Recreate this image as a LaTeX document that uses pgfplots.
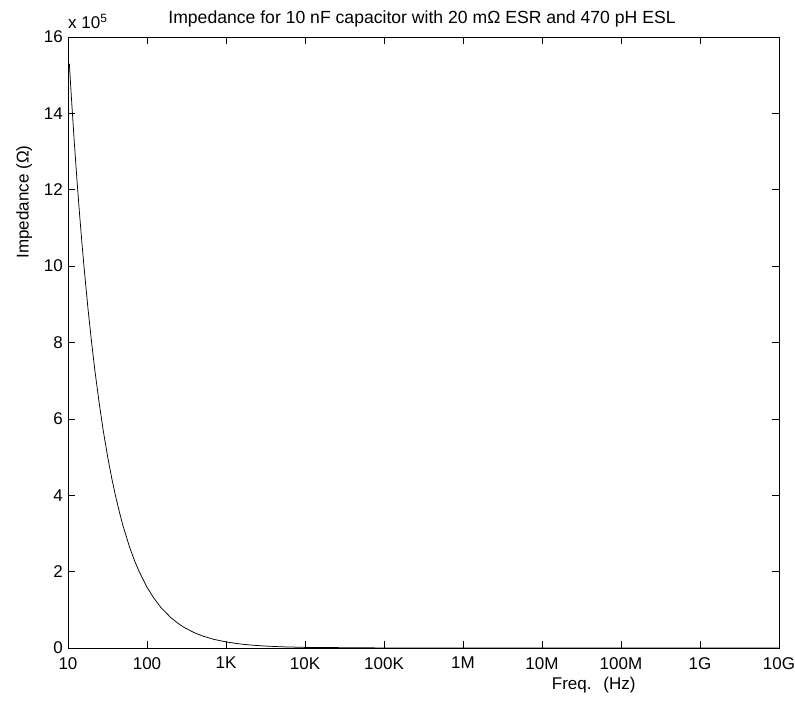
\documentclass[border=0pt]{standalone}
\usepackage{fontspec}
\setmainfont{Liberation Sans}
\usepackage{pgfplots}
\pgfplotsset{compat=1.18}

\newcommand\lblfont{\fontsize{17bp}{20bp}\selectfont}
\newcommand\ttlfont{\fontsize{17.6bp}{21bp}\selectfont}

\begin{document}
\begin{tikzpicture}
\useasboundingbox (0,0) rectangle (795bp,706bp);
\begin{axis}[
  scale only axis,
  width=711bp, height=611bp,
  at={(68bp,58bp)}, anchor=south west,
  xmode=log,
  xmin=10, xmax=1e10,
  ymin=0, ymax=16e5,
  xtick={1e1,1e2,1e3,1e4,1e5,1e6,1e7,1e8,1e9,1e10},
  xticklabels={10,100,1K,10K,100K,1M,10M,100M,1G,10G},
  xminorticks=false,
  ytick={0,2e5,4e5,6e5,8e5,10e5,12e5,14e5,16e5},
  yticklabels={0,2,4,6,8,10,12,14,16},
  scaled y ticks=false,
  tick align=inside,
  tick pos=both,
  major tick length=7bp,
  tick style={black, line width=0.6bp},
  axis line style={black, line width=0.8bp},
  /pgf/number format/assume math mode=true,
  ticklabel style={font=\lblfont},
  xticklabel style={inner sep=0pt, anchor=north, yshift=-9bp},
  yticklabel style={inner sep=0pt, anchor=east, xshift=-5bp},
  clip=false,
]
% |Z| of the 10 nF part versus frequency (Hz, ohm)
\addplot[black, line width=0.75bp] coordinates {
  (10.4,1.53e6) (11,1.447e6) (12,1.326e6) (13,1.224e6) (14,1.137e6)
  (15,1.061e6) (16,9.95e5) (18,8.84e5) (20,7.96e5) (22,7.23e5)
  (25,6.37e5) (28,5.68e5) (32,4.97e5) (36,4.42e5) (40,3.98e5)
  (45,3.54e5) (50,3.18e5) (60,2.65e5) (70,2.27e5) (80,1.99e5)
  (100,1.59e5) (120,1.33e5) (150,1.06e5) (200,7.96e4) (250,6.37e4)
  (300,5.31e4) (400,3.98e4) (500,3.18e4) (700,2.27e4) (1000,1.59e4)
  (1500,1.06e4) (2000,7.96e3) (3000,5.31e3) (5000,3.18e3) (1e4,1.59e3)
  (1e5,159) (1e6,15.9) (1e7,1.6) (7.3e7,0.02) (1e8,0.07)
  (1e9,2.95) (1e10,29.5)
};
\end{axis}
\node[anchor=base west, inner sep=0pt, font=\lblfont] at (68bp,677.7bp) {x 10\textsuperscript{5}};
\node[anchor=base, inner sep=0pt, font=\ttlfont] at (422bp,682.7bp)
  {Impedance for 10 nF capacitor with 20 mΩ ESR and 470 pH ESL};
\node[anchor=base, inner sep=0pt, font=\lblfont] at (593.7bp,17bp) {Freq.\hspace{0.7em}(Hz)};
\node[anchor=base, inner sep=0pt, rotate=90, font=\lblfont] at (28.5bp,504bp) {Impedance (Ω)};
\end{tikzpicture}
\end{document}
